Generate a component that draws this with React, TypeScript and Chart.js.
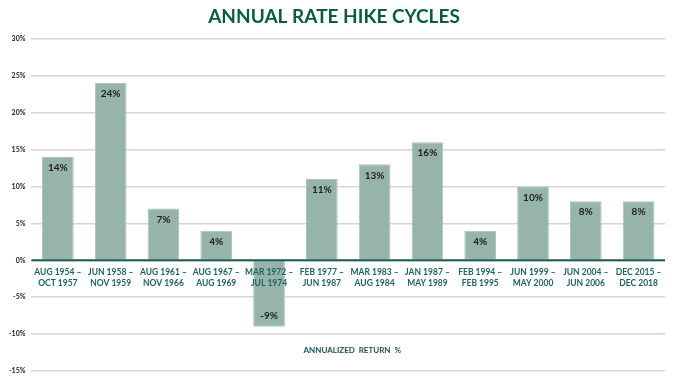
import React, { useEffect, useRef } from "react";
import { Chart, registerables } from "chart.js";

Chart.register(...registerables);

const cycleStarts = [
  "AUG 1954 –", "JUN 1958 –", "AUG 1961 –", "AUG 1967 –", "MAR 1972 –", "FEB 1977 –",
  "MAR 1983 –", "JAN 1987 –", "FEB 1994 –", "JUN 1999 –", "JUN 2004 –", "DEC 2015 –",
];
const cycleEnds = [
  "OCT 1957", "NOV 1959", "NOV 1966", "AUG 1969", "JUL 1974", "JUN 1987",
  "AUG 1984", "MAY 1989", "FEB 1995", "MAY 2000", "JUN 2006", "DEC 2018",
];
const annualizedReturns = [14, 24, 7, 4, -9, 11, 13, 16, 4, 10, 8, 8];
const chartTitle = "ANNUAL RATE HIKE CYCLES";
const xAxisTitle = "ANNUALIZED  RETURN  %";

const FONT = "Lato, 'Open Sans', sans-serif";
const DARK_GREEN = "#0b5a48";
const LABEL_TEAL = "#1f6262";

const labelPlugin = {
  id: "customLabels",
  afterDatasetsDraw(chart: any) {
    const { ctx, scales, chartArea } = chart;
    const x = scales.x;
    const y = scales.y;
    const meta = chart.getDatasetMeta(0);
    const y0 = y.getPixelForValue(0);
    ctx.save();
    // zero line
    ctx.strokeStyle = "#1a5c4a";
    ctx.lineWidth = 2;
    ctx.beginPath();
    ctx.moveTo(chartArea.left, y0);
    ctx.lineTo(chartArea.right, y0);
    ctx.stroke();
    ctx.textAlign = "center";
    ctx.textBaseline = "middle";
    // value labels
    ctx.font = `bold 10px ${FONT}`;
    ctx.fillStyle = "#1e1e1e";
    meta.data.forEach((bar: any, i: number) => {
      const v = annualizedReturns[i];
      const yy = v >= 0 ? bar.y + 11 : bar.y - 11;
      ctx.fillText(`${v}%`, bar.x, yy);
    });
    // category labels
    ctx.font = `bold 8.5px ${FONT}`;
    ctx.fillStyle = LABEL_TEAL;
    cycleStarts.forEach((s, i) => {
      const xx = x.getPixelForValue(i);
      ctx.fillText(s, xx, y0 + 12);
      ctx.fillText(cycleEnds[i], xx, y0 + 23);
    });
    // axis title
    ctx.font = `bold 8px ${FONT}`;
    ctx.fillStyle = "#1a5050";
    ctx.fillText(xAxisTitle, (chartArea.left + chartArea.right) / 2 + 4, y.getPixelForValue(-12.2));
    ctx.restore();
  },
};

export default function App() {
  const ref = useRef<HTMLCanvasElement | null>(null);
  useEffect(() => {
    if (!ref.current) return;
    const chart = new Chart(ref.current, {
      type: "bar",
      data: {
        labels: cycleStarts.map((s, i) => `${s} ${cycleEnds[i]}`),
        datasets: [
          {
            data: annualizedReturns,
            backgroundColor: "#97b4aa",
            borderColor: "#a8c2b9",
            borderWidth: 1,
            barPercentage: 0.6,
            categoryPercentage: 1,
          },
        ],
      },
      options: {
        animation: false,
        responsive: true,
        maintainAspectRatio: false,
        layout: { padding: { left: 3, right: 15, top: 0, bottom: 14 } },
        plugins: {
          legend: { display: false },
          tooltip: { enabled: false },
          title: {
            display: true,
            text: chartTitle,
            color: DARK_GREEN,
            font: { family: FONT, size: 19, weight: "bold" },
            padding: { top: 5, bottom: 11 },
          },
        },
        scales: {
          x: { display: false },
          y: {
            min: -15,
            max: 30,
            ticks: {
              stepSize: 5,
              callback: (v: any) => `${v}%`,
              color: "#222",
              font: { family: FONT, size: 7, weight: "bold" },
              padding: 6,
            },
            grid: {
              drawTicks: false,
              color: "#dad3d3",
              lineWidth: 1.5,
            },
            border: { display: false },
          },
        },
      },
      plugins: [labelPlugin],
    });
    return () => chart.destroy();
  }, []);
  return (
    <div style={{ position: "fixed", left: 0, top: 0, width: 680, height: 385, background: "#fff" }}>
      <canvas ref={ref} />
    </div>
  );
}
